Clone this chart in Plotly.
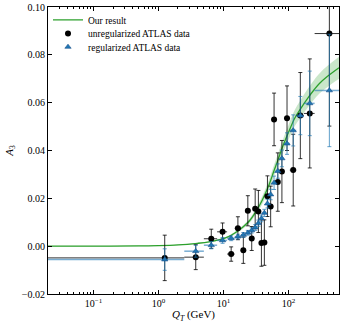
import numpy as np
import plotly.graph_objects as go

# ATLAS Q_T bins (GeV)
bin_lo = [0, 2.5, 5, 8, 11.4, 14.9, 18.5, 22, 25.5, 29, 32.6, 36.4, 40.4, 44.9,
          50.2, 56.4, 63.9, 73.4, 85.4, 105, 132, 173, 253]
bin_hi = [2.5, 5, 8, 11.4, 14.9, 18.5, 22, 25.5, 29, 32.6, 36.4, 40.4, 44.9, 50.2,
          56.4, 63.9, 73.4, 85.4, 105, 132, 173, 253, 600]

# unregularized ATLAS data
a3_unreg = [-0.0049, -0.0046, 0.0031, 0.0060, -0.0033, 0.0075, -0.0017, 0.0148,
            0.0032, 0.0156, 0.0145, 0.0013, 0.0015, 0.0209, 0.0166, 0.0530,
            0.0268, 0.0312, 0.0535, 0.0318, 0.0546, 0.0555, 0.0889]
err_unreg = [0.0095, 0.0052, 0.0040, 0.0037, 0.0030, 0.0048, 0.0055, 0.0063,
             0.0050, 0.0083, 0.0088, 0.0097, 0.0095, 0.0085, 0.0085, 0.0110,
             0.0122, 0.0130, 0.0135, 0.0150, 0.0180, 0.0228, 0.0387]

# regularized ATLAS data
a3_reg = [-0.0056, -0.0021, 0.0004, 0.0024, 0.0033, 0.0040, 0.0047, 0.0056,
          0.0066, 0.0078, 0.0096, 0.0116, 0.0139, 0.0178, 0.0216, 0.0265,
          0.0314, 0.0367, 0.0429, 0.0484, 0.0546, 0.0597, 0.0651]
err_reg = [0.0045, 0.0025, 0.0015, 0.0012, 0.0010, 0.0010, 0.0010, 0.0010,
           0.0011, 0.0012, 0.0013, 0.0014, 0.0015, 0.0018, 0.0022, 0.0028,
           0.0030, 0.0035, 0.0045, 0.0065, 0.0080, 0.0135, 0.0235]

# our result (curve + uncertainty band)
qt_curve = [0.02, 0.1, 0.5, 1, 2, 4, 6, 9, 12, 15, 20, 25, 30, 35, 40, 50, 60,
            70, 80, 100, 125, 150, 200, 250, 300, 400, 600]
a3_curve = [0.0000, 0.0000, 0.0001, 0.0002, 0.0005, 0.0012, 0.0018, 0.0028,
            0.0040, 0.0055, 0.0080, 0.0105, 0.0135, 0.0165, 0.0195, 0.0255,
            0.0315, 0.0365, 0.0410, 0.0475, 0.0535, 0.0570, 0.0620, 0.0655,
            0.0680, 0.0710, 0.0746]
band_curve = [0.0001, 0.0001, 0.0001, 0.0001, 0.0001, 0.0002, 0.0002, 0.0003,
              0.0004, 0.0005, 0.0007, 0.0009, 0.0011, 0.0014, 0.0017, 0.0021,
              0.0024, 0.0026, 0.0028, 0.0031, 0.0034, 0.0036, 0.0039, 0.0041,
              0.0042, 0.0044, 0.0046]

x_min, x_max = 0.02, 600

qt_mid = [(lo + hi) / 2 for lo, hi in zip(bin_lo, bin_hi)]
# unterste Bin-Kante 0 auf log-Achse -> weit links abschneiden
err_minus = [m - max(lo, 1e-4) for m, lo in zip(qt_mid, bin_lo)]
err_plus = [hi - m for m, hi in zip(qt_mid, bin_hi)]

FONT = "Liberation Serif"
green = "#2ca02c"

fig = go.Figure()

a3_c = np.array(a3_curve)
b_c = np.array(band_curve)
fig.add_trace(go.Scatter(x=qt_curve, y=a3_c - b_c, mode="lines", line=dict(width=0, shape="spline"),
                         showlegend=False, hoverinfo="skip"))
fig.add_trace(go.Scatter(x=qt_curve, y=a3_c + b_c, mode="lines", line=dict(width=0, shape="spline"),
                         fill="tonexty", fillcolor="rgba(44,160,44,0.25)",
                         showlegend=False, hoverinfo="skip"))
fig.add_trace(go.Scatter(x=qt_curve, y=a3_curve, mode="lines", name="Our result",
                         line=dict(color=green, width=1.3, shape="spline"), legend="legend"))

fig.add_trace(go.Scatter(
    x=qt_mid, y=a3_unreg, mode="markers", name="unregularized ATLAS data",
    marker=dict(symbol="circle", size=6, color="black"),
    error_y=dict(type="data", array=err_unreg, color="rgba(0,0,0,0.8)", thickness=1, width=2),
    error_x=dict(type="data", array=err_plus, arrayminus=err_minus, color="rgba(0,0,0,0.8)",
                 thickness=1, width=0),
    legend="legend2",
))
fig.add_trace(go.Scatter(
    x=qt_mid, y=a3_reg, mode="markers", name="regularized ATLAS data",
    marker=dict(symbol="triangle-up", size=5.5, color="#1f77b4",
                line=dict(color="#1a4f8a", width=0.6)),
    error_y=dict(type="data", array=err_reg, color="rgba(31,119,180,0.7)", thickness=1, width=2),
    error_x=dict(type="data", array=err_plus, arrayminus=err_minus, color="rgba(31,119,180,0.6)",
                 thickness=1.5, width=0),
    legend="legend3",
))

minor_x = [k * 10.0 ** e for e in range(-2, 3) for k in range(2, 10) if x_min <= k * 10.0 ** e <= x_max]

axis_common = dict(showline=True, linecolor="black", linewidth=1, mirror="ticks",
                   ticks="inside", tickcolor="black", ticklen=4, showgrid=False,
                   zeroline=False, automargin=False,
                   tickfont=dict(family=FONT, size=10, color="black"))

leg_common = dict(font=dict(family=FONT, size=9.5, color="black"), bgcolor="rgba(0,0,0,0)",
                  xanchor="left", yanchor="middle", x=0.0, itemwidth=30)

fig.update_layout(
    width=342, height=327,
    margin=dict(l=48, r=3, t=7, b=33),
    plot_bgcolor="white", paper_bgcolor="white",
    font=dict(family=FONT, color="black"),
    xaxis=dict(type="log", range=[np.log10(x_min), np.log10(x_max)],
               tickvals=[0.1, 1, 10, 100],
               ticktext=["10<sup>−1</sup>", "10<sup>0</sup>", "10<sup>1</sup>", "10<sup>2</sup>"],
               minor=dict(tickvals=minor_x, ticks="inside", ticklen=2, tickcolor="black"),
               title=dict(text="<i>Q</i><sub><i>T</i></sub> (GeV)", font=dict(family=FONT, size=11),
                          standoff=2),
               **axis_common),
    yaxis=dict(range=[-0.02, 0.10], dtick=0.02, tick0=0, tickformat=".2f",
               title=dict(text="<i>A</i><sub>3</sub>", font=dict(family=FONT, size=11), standoff=6),
               **axis_common),
    legend=dict(y=0.955, **leg_common),
    legend2=dict(y=0.908, **leg_common),
    legend3=dict(y=0.861, **leg_common),
)

# Seitenrand des Browsers entfernen, damit die Grafik bei (0, 0) beginnt
fig.write_html("out.html", config={"displayModeBar": False},
               post_script="document.body.style.margin='0';")
